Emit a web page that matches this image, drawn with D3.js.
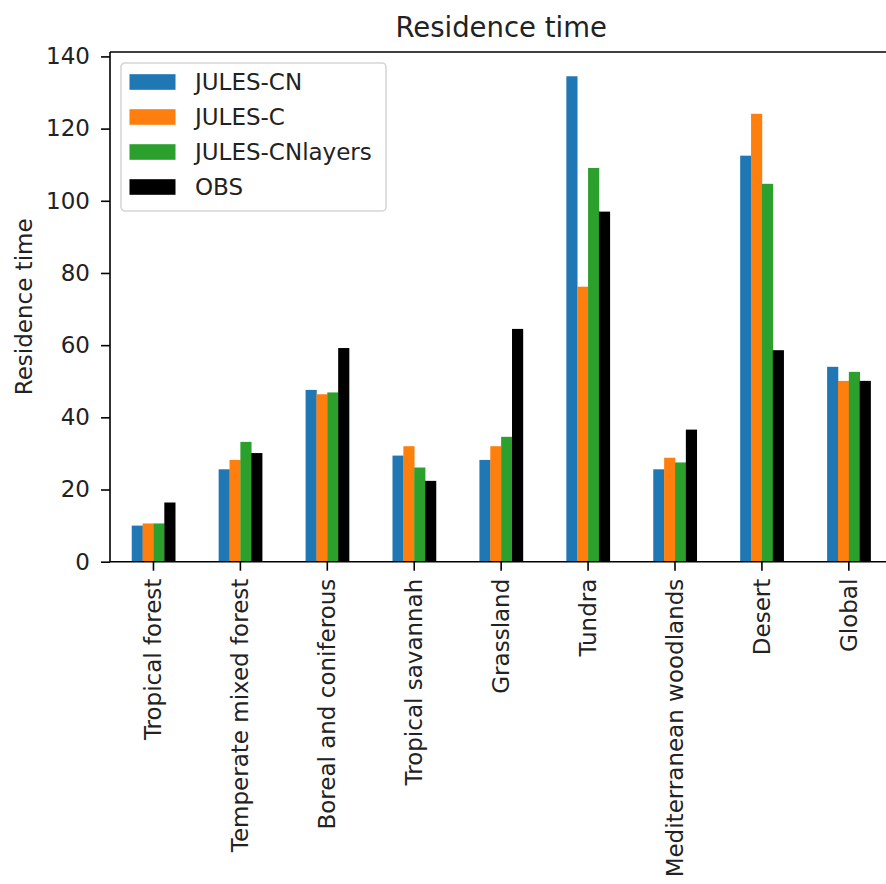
<!DOCTYPE html>
<html>
<head>
<meta charset="utf-8">
<script src="https://cdn.jsdelivr.net/npm/d3@7"></script>
<style>
  body { margin: 0; background: #fff; }
  svg { display: block; font-family: "DejaVu Sans", sans-serif; }
</style>
</head>
<body>
<svg id="viz"></svg>
<script>
// ------------------------------------------------------------
// DATA

var categories = ["Tropical forest", "Temperate mixed forest", "Boreal and coniferous",
  "Tropical savannah", "Grassland", "Tundra", "Mediterranean woodlands", "Desert", "Global"];

var seriesNames = ["JULES-CN", "JULES-C", "JULES-CNlayers", "OBS"];
var seriesColors = ["#1f77b4", "#ff7f0e", "#2ca02c", "#000000"];

var julesCN       = [10.0, 25.6, 47.6, 29.4, 28.2, 134.5, 25.6, 112.5, 54.0];
var julesC        = [10.6, 28.2, 46.4, 32.0, 32.0, 76.2, 28.8, 124.1, 50.1];
var julesCNlayers = [10.6, 33.2, 46.9, 26.1, 34.6, 109.1, 27.5, 104.7, 52.6];
var obs           = [16.4, 30.1, 59.2, 22.4, 64.5, 97.0, 36.6, 58.6, 50.1];

var yTicks = [0, 20, 40, 60, 80, 100, 120, 140];

// ------------------------------------------------------------
// SETUP

var w = 886, h = 884;
var plotLeft = 110, plotRight = 892.3, plotTop = 52, plotBottom = 561.7;
var viz = d3.select("#viz").attr("width", w).attr("height", h);

var allSeries = [julesCN, julesC, julesCNlayers, obs];

var yMax = d3.max(allSeries, function(s) { return d3.max(s); }) * 1.05;
var y = d3.scaleLinear().domain([0, yMax]).range([plotBottom, plotTop]);

// pandas style: total bar group width 0.5 of a category step
var x = d3.scaleBand().domain(categories).range([plotLeft, plotRight])
  .paddingInner(0.5).paddingOuter(0.25);
var xSub = d3.scaleBand().domain(seriesNames).range([0, x.bandwidth()]);

// ------------------------------------------------------------
// BARS

var groups = viz.append("g").selectAll("g")
  .data(allSeries)
  .enter()
  .append("g")
  .attr("fill", function(d, i) { return seriesColors[i]; });

groups.each(function(s, si) {
  d3.select(this).selectAll("rect")
    .data(s)
    .enter()
    .append("rect")
    .attr("x", function(d, i) { return x(categories[i]) + xSub(seriesNames[si]); })
    .attr("width", xSub.bandwidth() + 0.3)
    .attr("y", function(d) { return y(d); })
    .attr("height", function(d) { return y(0) - y(d); });
});

// ------------------------------------------------------------
// AXES

var yAxis = d3.axisLeft(y).tickValues(yTicks).tickSize(9).tickPadding(11);
var gy = viz.append("g").attr("transform", "translate(" + plotLeft + ",0)").call(yAxis);
gy.select(".domain").remove();
gy.selectAll("line").attr("stroke", "#000").attr("stroke-width", 1.6);
gy.selectAll("text").attr("font-size", 23).attr("fill", "#222")
  .attr("font-family", "DejaVu Sans");

var xAxis = d3.axisBottom(x).tickSize(9).tickPadding(0);
var gx = viz.append("g").attr("transform", "translate(0," + plotBottom + ")").call(xAxis);
gx.select(".domain").remove();
gx.selectAll("line").attr("stroke", "#000").attr("stroke-width", 1.6);
gx.selectAll("text")
  .attr("font-size", 23).attr("fill", "#222").attr("font-family", "DejaVu Sans")
  .attr("y", 0).attr("dy", null)
  .attr("text-anchor", "end")
  .attr("dominant-baseline", "central")
  .attr("transform", "translate(0,17) rotate(-90)");

// spines
var spine = viz.append("g").attr("stroke", "#000").attr("stroke-width", 1.6).attr("fill", "none");
spine.append("line").attr("x1", plotLeft).attr("x2", plotLeft).attr("y1", plotTop).attr("y2", plotBottom);
spine.append("line").attr("x1", plotLeft).attr("x2", plotRight).attr("y1", plotBottom).attr("y2", plotBottom);
spine.append("line").attr("x1", plotLeft).attr("x2", plotRight).attr("y1", plotTop).attr("y2", plotTop);
spine.append("line").attr("x1", plotRight).attr("x2", plotRight).attr("y1", plotTop).attr("y2", plotBottom);

// ------------------------------------------------------------
// TITLES

viz.append("text")
  .attr("x", (plotLeft + plotRight) / 2).attr("y", 37)
  .attr("text-anchor", "middle")
  .attr("font-size", 27.5).attr("fill", "#222")
  .text("Residence time");

viz.append("text")
  .attr("transform", "translate(32," + ((plotTop + plotBottom) / 2) + ") rotate(-90)")
  .attr("text-anchor", "middle")
  .attr("font-size", 23).attr("fill", "#222")
  .text("Residence time");

// ------------------------------------------------------------
// LEGEND

var legend = viz.append("g").attr("transform", "translate(121,63)");
legend.append("rect")
  .attr("width", 265).attr("height", 148)
  .attr("rx", 4).attr("ry", 4)
  .attr("fill", "#fff").attr("fill-opacity", 0.8)
  .attr("stroke", "#d6d6d6").attr("stroke-width", 1.6);

var items = legend.selectAll("g.item")
  .data(seriesNames)
  .enter()
  .append("g")
  .attr("class", "item")
  .attr("transform", function(d, i) { return "translate(0," + (19 + i * 35) + ")"; });

items.append("rect")
  .attr("x", 8.5).attr("y", -7.8)
  .attr("width", 46).attr("height", 15.6)
  .attr("fill", function(d, i) { return seriesColors[i]; });

items.append("text")
  .attr("x", 74).attr("y", 0)
  .attr("dy", "0.36em")
  .attr("font-size", 23).attr("fill", "#222")
  .text(function(d) { return d; });
</script>
</body>
</html>
